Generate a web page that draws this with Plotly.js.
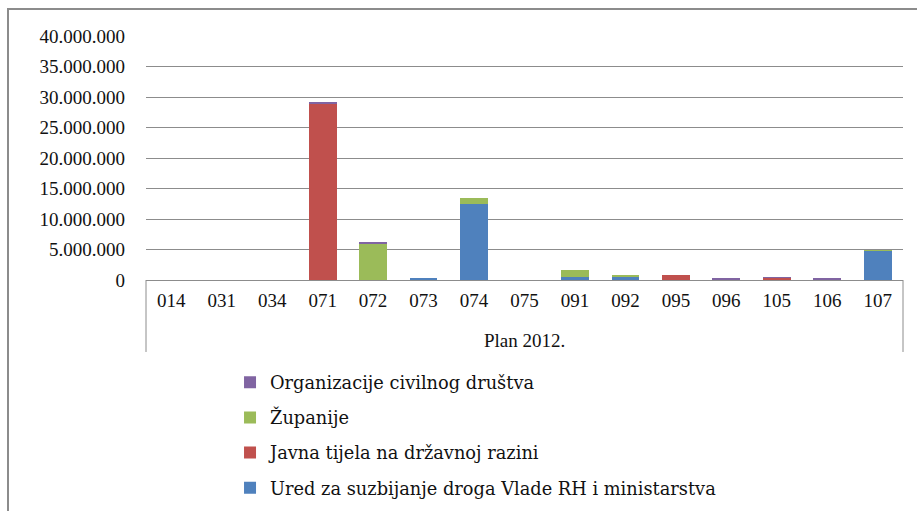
<!DOCTYPE html>
<html>
<head>
<meta charset="utf-8">
<script src="https://cdn.plot.ly/plotly-3.0.1.min.js"></script>
<style>
html,body{margin:0;padding:0;background:#fff;overflow:hidden;}
#frame{position:absolute;left:7px;top:8px;width:1000px;height:1000px;border:2px solid #8c8c8c;box-sizing:border-box;pointer-events:none;z-index:5;}
#chart{position:absolute;left:0;top:0;width:917px;height:511px;}
</style>
</head>
<body>
<div id="chart"></div>
<div id="frame"></div>
<script>
var categories = ['014','031','034','071','072','073','074','075','091','092','095','096','105','106','107'];
var groupLabel = 'Plan 2012.';
var seriesNames = ['Ured za suzbijanje droga Vlade RH i ministarstva','Javna tijela na državnoj razini','Županije','Organizacije civilnog društva'];
var ured     = [0,0,0,0,0,300000,12500000,0,500000,500000,0,0,0,0,4700000];
var javna    = [0,0,0,28900000,0,0,0,0,0,0,750000,0,350000,0,0];
var zupanije = [0,0,0,0,5950000,0,900000,0,1100000,250000,0,0,0,0,200000];
var organiz  = [0,0,0,200000,350000,0,0,0,0,150000,100000,250000,100000,250000,100000];
var yTicks = [0,5000000,10000000,15000000,20000000,25000000,30000000,35000000,40000000];

var colors = ['#4F81BD','#C0504D','#9BBB59','#8064A2'];
var values = [ured, javna, zupanije, organiz];

var traces = values.map(function(v,i){
  return {
    type:'bar', x:categories, y:v, name:seriesNames[i],
    legendgroup:'g'+i, legendrank: 4 - i,
    marker:{color:colors[i], line:{width:0}},
    hoverinfo:'y+name'
  };
});

var layout = {
  width:917, height:511,
  margin:{l:146, r:14, t:36, b:231, autoexpand:false},
  paper_bgcolor:'#fff', plot_bgcolor:'#fff',
  barmode:'stack', bargap:0.45,
  separators:',.',
  font:{family:'Liberation Serif, serif', color:'#000', size:18},
  xaxis:{type:'category', showgrid:false, showline:true, linecolor:'#8c8c8c', linewidth:1,
         ticks:'', tickfont:{family:'Liberation Serif, serif', size:19, color:'#111'}, ticklabelstandoff:3, fixedrange:true},
  yaxis:{range:[0,40000000], tickvals:yTicks, tickformat:',.0f', showgrid:true, gridcolor:'#8c8c8c', gridwidth:1,
         zeroline:false, showline:false, ticks:'', tickfont:{family:'Liberation Serif, serif', size:19, color:'#111'}, ticklabelstandoff:20, fixedrange:true},
  showlegend:true,
  legend:{orientation:'v', traceorder:'grouped', tracegroupgap:9, x:0.111, xanchor:'left', y:-0.345, yanchor:'top',
          font:{family:'DejaVu Serif, serif', size:17.8, color:'#111'}, itemwidth:30, bgcolor:'rgba(0,0,0,0)'},
  annotations:[{xref:'paper', yref:'paper', x:0.5, y:-0.246, yanchor:'middle', text:groupLabel, showarrow:false,
                font:{family:'Liberation Serif, serif', size:19, color:'#111'}}],
  shapes:[
    {type:'line', xref:'paper', yref:'paper', x0:0, x1:0, y0:0, y1:-0.295, line:{color:'#8c8c8c', width:1}},
    {type:'line', xref:'paper', yref:'paper', x0:1, x1:1, y0:0, y1:-0.295, line:{color:'#8c8c8c', width:1}}
  ]
};

Plotly.newPlot('chart', traces, layout, {displayModeBar:false, staticPlot:true});
</script>
</body>
</html>
